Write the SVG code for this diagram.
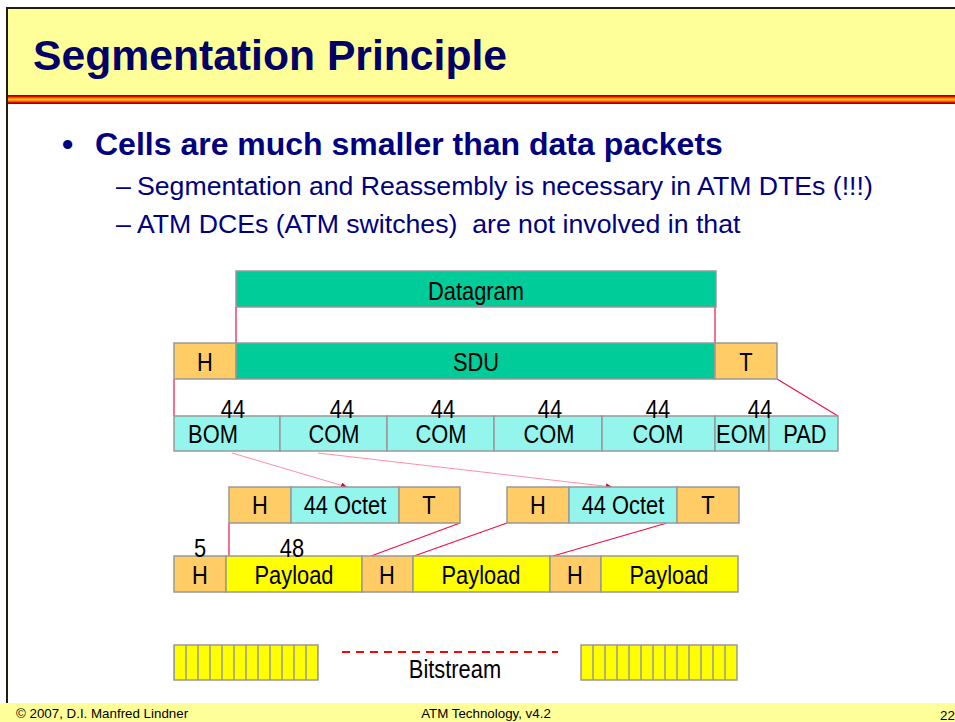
<svg xmlns="http://www.w3.org/2000/svg" width="955" height="722" viewBox="0 0 955 722">
<defs>
<linearGradient id="stripe" x1="0" y1="0" x2="0" y2="1">
<stop offset="0" stop-color="#800000"/>
<stop offset="0.15" stop-color="#CC0000"/>
<stop offset="0.32" stop-color="#FF6600"/>
<stop offset="0.5" stop-color="#FFCC00"/>
<stop offset="0.68" stop-color="#FF6600"/>
<stop offset="0.85" stop-color="#CC0000"/>
<stop offset="1" stop-color="#800000"/>
</linearGradient>
<marker id="arr" viewBox="0 0 10 10" refX="10" refY="5" markerWidth="6" markerHeight="6" orient="auto" markerUnits="userSpaceOnUse">
<path d="M0,0 L10,5 L0,10 z" fill="#E8003A"/>
</marker>
<pattern id="bits" x="174" y="0" width="12" height="722" patternUnits="userSpaceOnUse">
<rect x="0" y="0" width="12" height="722" fill="#FFFF00" stroke="#999" stroke-width="1.5"/>
</pattern>
</defs>
<style>
.title{font-family:"Liberation Sans",Arial,sans-serif;font-weight:bold;font-size:42.67px;fill:#000066}
.b1{font-family:"Liberation Sans",Arial,sans-serif;font-weight:bold;font-size:32px;fill:#000080}
.b2{font-family:"Liberation Sans",Arial,sans-serif;font-size:26.67px;fill:#000080}
.foot{font-family:"Liberation Sans",Arial,sans-serif;font-size:13.33px;fill:#000}
.d{font-family:"Liberation Sans Narrow","Liberation Sans",Arial,sans-serif;font-size:26.67px;fill:#000;text-anchor:middle;transform-box:fill-box;transform-origin:center;transform:scaleX(0.82)}
.box{stroke:#999;stroke-width:1.5}
.or{fill:#FFCC66}
.tg{fill:#00CC99}
.cy{fill:#93F5EC}
.ye{fill:#FFFF00}
.red{stroke:#F0104A;stroke-width:1.2;fill:none}
.pink{stroke:#FF8FA8;stroke-width:1;fill:none}
</style>
<rect x="0" y="0" width="955" height="722" fill="#FFFFFF"/>
<g id="header">
<rect x="8" y="9" width="947" height="86" fill="#FFFF99"/>
<rect x="8" y="95" width="947" height="9" fill="url(#stripe)"/>
<path d="M7,703 V8 H955" fill="none" stroke="#1E1E14" stroke-width="2"/>
<text class="title" x="33" y="70">Segmentation Principle</text>
</g>
<g id="bullets">
<text class="b1" x="62" y="155">•</text>
<text class="b1" x="95" y="155">Cells are much smaller than data packets</text>
<text class="b2" x="116" y="195">–</text>
<text class="b2" x="137" y="195">Segmentation and Reassembly is necessary in ATM DTEs (!!!)</text>
<text class="b2" x="116" y="233">–</text>
<text class="b2" x="137" y="233">ATM DCEs (ATM switches)&#160; are not involved in that</text>
</g>
<g id="footer">
<rect x="0" y="703" width="955" height="19" fill="#FFFF99"/>
<text class="foot" x="16" y="718">© 2007, D.I. Manfred Lindner</text>
<text class="foot" x="486" y="718" text-anchor="middle">ATM Technology, v4.2</text>
<text class="foot" x="940" y="720">22</text>
</g>
<g id="connectors">
<line class="red" x1="236" y1="307" x2="236" y2="343"/>
<line class="red" x1="715" y1="307" x2="715" y2="343"/>
<line class="red" x1="174" y1="379" x2="174" y2="416"/>
<line class="red" x1="777" y1="379" x2="838" y2="416"/>
<line class="pink" x1="232" y1="453" x2="347" y2="487" marker-end="url(#arr)"/>
<line class="pink" x1="318" y1="453" x2="612" y2="487" marker-end="url(#arr)"/>
<line class="red" x1="229" y1="523" x2="229" y2="556"/>
<line class="red" x1="460" y1="523" x2="371" y2="556"/>
<line class="red" x1="507" y1="523" x2="414" y2="556"/>
<line class="red" x1="667" y1="523" x2="553" y2="556"/>
<line x1="342" y1="652" x2="558" y2="652" stroke="#FF0000" stroke-width="2" stroke-dasharray="8,6"/>
</g>
<g id="datagram">
<rect class="box tg" x="236" y="271" width="480" height="36"/>
<text class="d" x="476" y="300">Datagram</text>
</g>
<g id="sdu-row">
<rect class="box or" x="174" y="343" width="62" height="36"/>
<rect class="box tg" x="236" y="343" width="479" height="36"/>
<rect class="box or" x="715" y="343" width="62" height="36"/>
<text class="d" x="205" y="371">H</text>
<text class="d" x="476" y="371">SDU</text>
<text class="d" x="746" y="371">T</text>
</g>
<g id="segments">
<rect class="box cy" x="174" y="416" width="106" height="35"/>
<rect class="box cy" x="280" y="416" width="107" height="35"/>
<rect class="box cy" x="387" y="416" width="107" height="35"/>
<rect class="box cy" x="494" y="416" width="108" height="35"/>
<rect class="box cy" x="602" y="416" width="113" height="35"/>
<rect class="box cy" x="715" y="416" width="54" height="35"/>
<rect class="box cy" x="769" y="416" width="69" height="35"/>
<text class="d" x="213" y="443">BOM</text>
<text class="d" x="334" y="443">COM</text>
<text class="d" x="441" y="443">COM</text>
<text class="d" x="549" y="443">COM</text>
<text class="d" x="658" y="443">COM</text>
<text class="d" x="741" y="443">EOM</text>
<text class="d" x="805" y="443">PAD</text>
<text class="d" x="233" y="418">44</text>
<text class="d" x="342" y="418">44</text>
<text class="d" x="443" y="418">44</text>
<text class="d" x="550" y="418">44</text>
<text class="d" x="658" y="418">44</text>
<text class="d" x="760" y="418">44</text>
</g>
<g id="cell1">
<rect class="box or" x="229" y="487" width="62" height="36"/>
<rect class="box cy" x="291" y="487" width="108" height="36"/>
<rect class="box or" x="399" y="487" width="61" height="36"/>
<text class="d" x="260" y="514">H</text>
<text class="d" x="345" y="514">44 Octet</text>
<text class="d" x="429" y="514">T</text>
</g>
<g id="cell2">
<rect class="box or" x="507" y="487" width="62" height="36"/>
<rect class="box cy" x="569" y="487" width="108" height="36"/>
<rect class="box or" x="677" y="487" width="62" height="36"/>
<text class="d" x="538" y="514">H</text>
<text class="d" x="623" y="514">44 Octet</text>
<text class="d" x="708" y="514">T</text>
</g>
<g id="cells-row">
<rect class="box or" x="174" y="556" width="52" height="36"/>
<rect class="box ye" x="226" y="556" width="136" height="36"/>
<rect class="box or" x="362" y="556" width="51" height="36"/>
<rect class="box ye" x="413" y="556" width="137" height="36"/>
<rect class="box or" x="550" y="556" width="51" height="36"/>
<rect class="box ye" x="601" y="556" width="137" height="36"/>
<text class="d" x="200" y="584">H</text>
<text class="d" x="294" y="584">Payload</text>
<text class="d" x="387" y="584">H</text>
<text class="d" x="481" y="584">Payload</text>
<text class="d" x="575" y="584">H</text>
<text class="d" x="669" y="584">Payload</text>
<text class="d" x="200" y="557">5</text>
<text class="d" x="292" y="557">48</text>
</g>
<g id="bitstream">
<rect x="174" y="645" width="144" height="35" fill="url(#bits)"/>
<rect x="174" y="645" width="144" height="35" fill="none" stroke="#999" stroke-width="1.5"/>
<rect x="581" y="645" width="156" height="35" fill="#FFFF00" stroke="#999" stroke-width="1.5"/>
<path d="M593,645v35M605,645v35M617,645v35M629,645v35M641,645v35M653,645v35M665,645v35M677,645v35M689,645v35M701,645v35M713,645v35M725,645v35" stroke="#999" stroke-width="1.5"/>
<text class="d" x="455" y="678">Bitstream</text>
</g>
</svg>
